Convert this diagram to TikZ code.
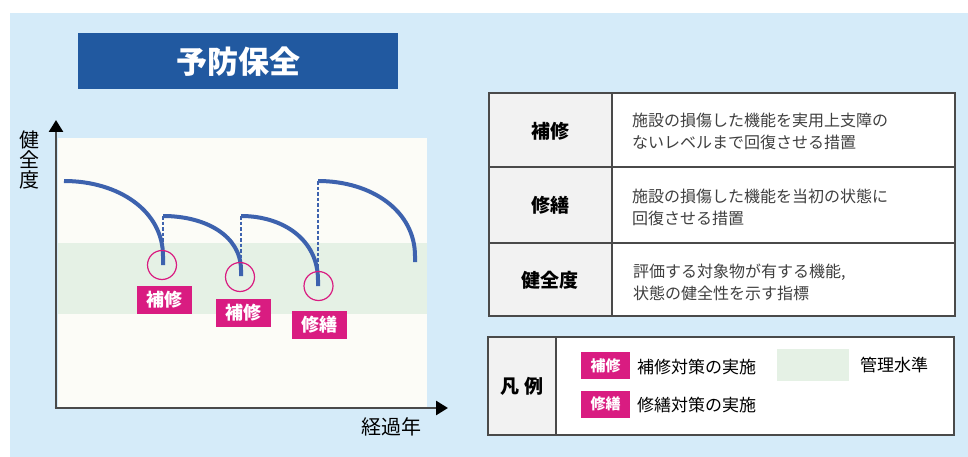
\documentclass[tikz,border=0pt]{standalone}
\usepackage{fontspec}
\setmainfont{Noto Sans CJK JP}
\usetikzlibrary{arrows.meta}
\definecolor{bgblue}{HTML}{D5EBF9}
\definecolor{titleblue}{HTML}{2159A0}
\definecolor{curveblue}{HTML}{3D62AE}
\definecolor{pink}{HTML}{D91C81}
\definecolor{band}{HTML}{E5F1E5}
\definecolor{plotbg}{HTML}{FCFCF7}
\definecolor{cellgrey}{HTML}{F2F2F2}
\definecolor{lineg}{HTML}{4A4A4A}
\definecolor{txtg}{HTML}{404040}
\tikzset{
  curve/.style={curveblue, line width=4pt},
  dashv/.style={curveblue, line width=1.6pt, dash pattern=on 3.5pt off 2pt},
  ring/.style={pink, line width=1.2pt},
  tag/.style={fill=pink, text=white, font=\bfseries\fontsize{18}{20}\selectfont, minimum width=55pt, minimum height=28pt, inner sep=0pt},
  smalltag/.style={fill=pink, text=white, font=\bfseries\fontsize{15}{17}\selectfont, minimum width=49pt, minimum height=27pt, inner sep=0pt},
  rowlab/.style={font=\bfseries\fontsize{19}{21}\selectfont, text=black},
  desc/.style={anchor=west, align=left, text=txtg, font=\fontsize{16}{22}\selectfont, inner sep=0pt},
  legtxt/.style={anchor=west, text=black, font=\fontsize{17}{19}\selectfont, inner sep=0pt},
  axislab/.style={font=\fontsize{20}{21}\selectfont, text=black, inner sep=0pt},
  tbl/.style={draw=lineg, line width=1.3pt},
  axisline/.style={lineg, line width=2.6pt, -{Triangle[length=12pt,width=14pt,black,fill=black]}},
}
\begin{document}
\begin{tikzpicture}[x=1pt,y=-1pt]
\useasboundingbox (0,0) rectangle (968,457);
\fill[white] (0,0) rectangle (968,457);
\fill[bgblue] (10,13) rectangle (968,457);
% title
\fill[titleblue] (78,33) rectangle (398,89);
\node[text=white, font=\bfseries\fontsize{31}{33}\selectfont] (title) at (238,62) {予防保全};
% plot area
\fill[plotbg] (58,138) rectangle (427,407);
\fill[band] (58,243) rectangle (427,314);
% axes
\coordinate (O) at (56,408);
\coordinate (ytop) at (56,120);
\coordinate (xend) at (448,408);
\draw[axisline] (O) -- (ytop);
\draw[axisline] ([xshift=-1.3pt]O) -- (xend);
\node[axislab, align=center] (ylab) at (29,160) {健\\[-1pt]全\\[-1pt]度};
\node[axislab] (xlab) at (391,427) {経過年};
% dashed recoveries
\draw[dashv] (163,216) -- (163,262);
\draw[dashv] (241,216) -- (241,272);
\draw[dashv] (318,181) -- (318,284);
% curves (quarter ellipses)
\draw[curve] (64,181) .. controls (118.7,181) and (163,211) .. (163,256) -- (163,265);
\draw[curve] (163,216) .. controls (206,216) and (241,236) .. (241,270) -- (241,276);
\draw[curve] (241,216) .. controls (283.5,216) and (318,240) .. (318,280) -- (318,286);
\draw[curve] (318,181) .. controls (371.6,181) and (415,211) .. (415,256) -- (415,262);
% rings
\draw[ring] (162,265) circle (14.5);
\draw[ring] (240,277) circle (14.5);
\draw[ring] (318.5,286) circle (14.5);
% tags
\node[tag] (t1) at (164.5,300) {補修};
\node[tag] (t2) at (243,312.5) {補修};
\node[tag] (t3) at (319.5,325) {修繕};
% definition table
\fill[cellgrey] (489,93) rectangle (612,316);
\fill[white] (612,93) rectangle (955,316);
\draw[tbl] (489,93) rectangle (955,316);
\draw[tbl] (489,167) -- (955,167);
\draw[tbl] (489,243) -- (955,243);
\draw[tbl] (612,93) -- (612,316);
\node[rowlab] (r1) at (550,131) {補修};
\node[rowlab] (r2) at (550,205) {修繕};
\node[rowlab] (r3) at (550,280) {健全度};
\node[desc] (d1) at (632,131) {施設の損傷した機能を実用上支障の\\ないレベルまで回復させる措置};
\node[desc] (d2) at (632,207) {施設の損傷した機能を当初の状態に\\回復させる措置};
\node[desc] (d3) at (633,282) {評価する対象物が有する機能,\\状態の健全性を示す指標};
% legend
\fill[cellgrey] (488,337) rectangle (556,435);
\fill[white] (556,337) rectangle (954,435);
\draw[tbl] (488,337) rectangle (954,435);
\draw[tbl] (556,337) -- (556,435);
\node[rowlab] (lg) at (522,386) {凡\hspace{5pt}例};
\node[smalltag] (lt1) at (605.5,365.5) {補修};
\node[smalltag] (lt2) at (605.5,404) {修繕};
\node[legtxt] (lx1) at (637,367) {補修対策の実施};
\node[legtxt] (lx2) at (637,405) {修繕対策の実施};
\fill[band] (777,349) rectangle (849,381);
\node[legtxt] (lx3) at (860,365) {管理水準};
\end{tikzpicture}
\end{document}
